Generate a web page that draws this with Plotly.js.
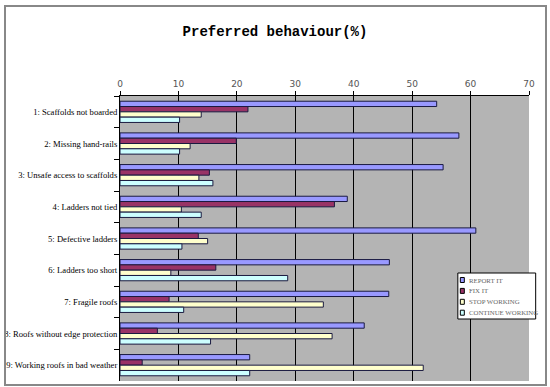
<!DOCTYPE html>
<html><head><meta charset="utf-8">
<script src="https://cdn.plot.ly/plotly-3.0.1.min.js"></script>
<style>
body{margin:0;padding:0;background:#fff;}
#frame{position:absolute;left:4px;top:5px;width:539px;height:377px;border:2px solid #888;pointer-events:none;z-index:5;}
#chart{position:absolute;left:0;top:0;width:550px;height:387px;}
</style></head>
<body>
<div id="chart"></div>
<div id="frame"></div>
<script>
const categories = [
  "1: Scaffolds not boarded",
  "2: Missing hand-rails",
  "3: Unsafe access to scaffolds",
  "4: Ladders not tied",
  "5: Defective ladders",
  "6: Ladders too short",
  "7: Fragile roofs",
  "8: Roofs without edge protection",
  "9: Working roofs in bad weather"
];
const seriesNames = ["REPORT IT", "FIX IT", "STOP WORKING", "CONTINUE WORKING"];
const reportIt   = [54.2, 58.0, 55.3, 38.9, 60.9, 46.1, 46.0, 41.8, 22.2];
const fixIt      = [21.9, 19.9, 15.3, 36.7, 13.4, 16.4, 8.4, 6.4, 3.8];
const stopWork   = [13.9, 12.0, 13.5, 10.5, 15.0, 8.7, 34.8, 36.3, 51.9];
const contWork   = [10.2, 10.2, 15.9, 13.9, 10.6, 28.7, 10.9, 15.5, 22.2];
const xTicks = [0, 10, 20, 30, 40, 50, 60, 70];

const colors = ["#9999FF", "#993366", "#FFFFCC", "#CCFFFF"];
const allSeries = [reportIt, fixIt, stopWork, contWork];

const W = 550, H = 387;
const M = {l: 119.5, r: 20.7, t: 96, b: 6};
const pw = W - M.l - M.r, ph = H - M.t - M.b;
const px2x = p => (p - M.l) / pw;
const py2y = p => (H - M.b - p) / ph;

const data = allSeries.map((vals, i) => ({
  type: "bar",
  orientation: "h",
  name: seriesNames[i],
  x: vals,
  y: categories,
  marker: {color: colors[i], line: {color: "#1a1a40", width: 1}},
  hoverinfo: "x+name"
}));

// custom legend (box + swatches + labels)
const shapes = [{
  type: "rect", xref: "paper", yref: "paper",
  x0: px2x(458), x1: px2x(536), y0: py2y(319), y1: py2y(273),
  fillcolor: "#ffffff", line: {color: "#000", width: 1}, layer: "above"
}];
const annotations = [];
seriesNames.forEach((name, i) => {
  const cy = 280 + i * 10.9;
  shapes.push({
    type: "rect", xref: "paper", yref: "paper",
    x0: px2x(460.5), x1: px2x(464.5), y0: py2y(cy + 2.5), y1: py2y(cy - 2.5),
    fillcolor: colors[i], line: {color: "#000", width: 1}, layer: "above"
  });
  annotations.push({
    xref: "paper", yref: "paper", x: px2x(467), y: py2y(cy),
    xanchor: "left", yanchor: "middle", showarrow: false,
    text: name,
    font: {family: "Liberation Serif, serif", size: 6.8, color: "#666"}
  });
});

const layout = {
  width: W, height: H,
  margin: M,
  paper_bgcolor: "#ffffff",
  plot_bgcolor: "#B4B4B4",
  barmode: "group",
  bargap: 0.33,
  bargroupgap: 0,
  showlegend: false,
  shapes: shapes,
  annotations: annotations,
  title: {
    text: "<b>Preferred behaviour(%)</b>",
    font: {family: "Liberation Mono", size: 14, color: "#000"},
    x: 0.5, xanchor: "center", y: 0.92, yanchor: "middle"
  },
  xaxis: {
    side: "top",
    range: [0, 70],
    tickvals: xTicks,
    ticktext: xTicks.map(String),
    ticks: "outside", ticklen: 4, tickcolor: "#000",
    showline: true, linecolor: "#000", linewidth: 1,
    showgrid: true, gridcolor: "#000", gridwidth: 1,
    zeroline: false, automargin: false,
    tickfont: {family: "DejaVu Sans", size: 9, color: "#555"},
    fixedrange: true
  },
  yaxis: {
    type: "category",
    autorange: "reversed",
    tickson: "boundaries",
    ticks: "outside", ticklen: 5, tickcolor: "#000",
    showline: true, linecolor: "#000", linewidth: 1,
    showgrid: false, automargin: false,
    tickfont: {family: "Liberation Serif, serif", size: 8.6, color: "#000"},
    fixedrange: true
  }
};

Plotly.newPlot("chart", data, layout, {displayModeBar: false, staticPlot: true});
</script>
</body></html>
